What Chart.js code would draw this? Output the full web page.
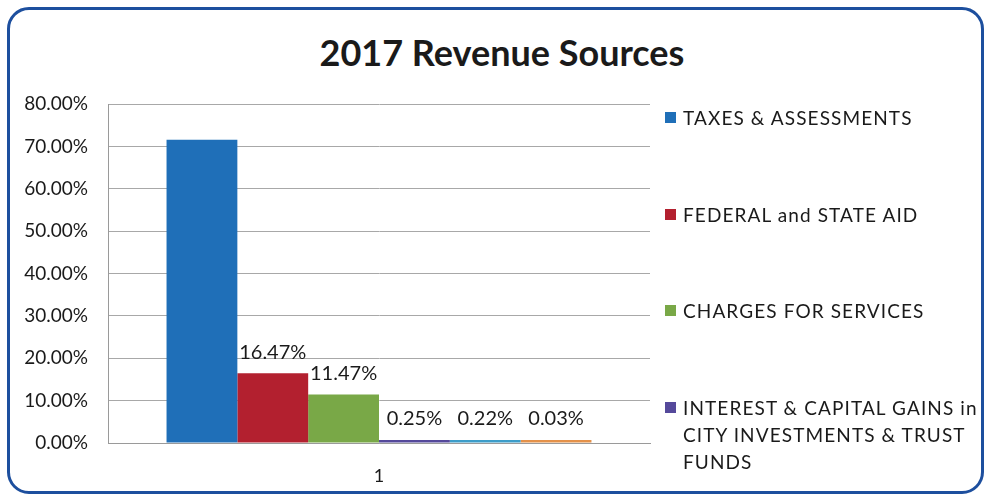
<!DOCTYPE html>
<html>
<head>
<meta charset="utf-8">
<script src="https://cdn.jsdelivr.net/npm/chart.js@4/dist/chart.umd.min.js"></script>
<style>
  html, body { margin: 0; padding: 0; background: #fff; }
  body { width: 985px; height: 497px; position: relative; overflow: hidden; font-family: Lato, "Open Sans", sans-serif; color: #1a1a1a; }
  #frame { position: absolute; left: 7px; top: 7px; width: 971px; height: 481px; border: 3px solid #1d4f9e; border-radius: 22px; }
  #titulo { position: absolute; left: 0; width: 1004px; top: 30px; text-align: center; font-weight: bold; font-size: 36px; line-height: 44px; }
  #grafico-box { position: absolute; left: 0; top: 0; width: 985px; height: 497px; }
  .leg { position: absolute; left: 665px; font-size: 19px; letter-spacing: 1.1px; line-height: 27px; white-space: nowrap; }
  .leg i { position: absolute; left: 0; top: 8px; width: 11px; height: 11px; }
  .leg span { position: absolute; left: 18px; top: 0; }
</style>
</head>
<body>
<div id="frame"></div>
<div id="titulo">2017 Revenue Sources</div>
<div id="grafico-box"><canvas id="grafico"></canvas></div>
<div id="legenda"></div>

<script>
// dados
const categorias = ["1"];
const fontes = [
    "TAXES & ASSESSMENTS",
    "FEDERAL and STATE AID",
    "CHARGES FOR SERVICES",
    "INTEREST & CAPITAL GAINS in CITY INVESTMENTS & TRUST FUNDS",
    "OTHER REVENUE",
    "MISCELLANEOUS"
];
const valores = [71.56, 16.47, 11.47, 0.25, 0.22, 0.03];
const cores = ['#1f6fb8', '#b3202f', '#79a847', '#55499b', '#3d9dc9', '#e4914a'];
const ticksY = [0, 10, 20, 30, 40, 50, 60, 70, 80];

// legenda (só as 4 primeiras aparecem no original)
const legendaTop = [104, 201, 297, 394];
const legendaTexto = [
    "TAXES & ASSESSMENTS",
    "FEDERAL and STATE AID",
    "CHARGES FOR SERVICES",
    "INTEREST & CAPITAL GAINS in<br>CITY INVESTMENTS & TRUST<br>FUNDS"
];
document.getElementById("legenda").innerHTML = legendaTexto.map((t, i) =>
    `<div class="leg" style="top:${legendaTop[i]}px"><i style="background:${cores[i]}"></i><span>${t}</span></div>`
).join("");

// rótulos em cima das barras (menos a primeira)
const rotulos = {
    id: 'rotulos',
    afterDatasetsDraw(chart) {
        const ctx = chart.ctx;
        ctx.save();
        ctx.font = '20px Lato';
        ctx.fillStyle = '#1a1a1a';
        ctx.textAlign = 'center';
        ctx.textBaseline = 'middle';
        chart.data.datasets.forEach((ds, i) => {
            if (i === 0) return;
            const bar = chart.getDatasetMeta(i).data[0];
            ctx.fillText(ds.data[0].toFixed(2) + '%', bar.x, bar.y - 21);
        });
        ctx.restore();
    }
};

new Chart(document.getElementById('grafico'), {
    type: 'bar',
    data: {
        labels: categorias,
        datasets: fontes.map((f, i) => ({
            label: f,
            data: [valores[i]],
            backgroundColor: cores[i],
            borderWidth: 0,
            minBarLength: 3
        }))
    },
    options: {
        responsive: true,
        maintainAspectRatio: false,
        animation: false,
        categoryPercentage: 0.784,
        barPercentage: 1,
        layout: { padding: { left: 8, right: 335, top: 104, bottom: 10 } },
        plugins: {
            legend: { display: false },
            tooltip: { enabled: false }
        },
        scales: {
            x: {
                grid: { display: false },
                border: { display: true, color: '#9a9a9a' },
                ticks: { color: '#1a1a1a', font: { family: 'Lato', size: 18 }, padding: 14 },
                afterFit(s) { s.height = 44; }
            },
            y: {
                min: 0,
                max: 80,
                afterBuildTicks(s) { s.ticks = ticksY.map(v => ({ value: v })); },
                grid: { color: '#a8a8a8', drawTicks: false },
                border: { display: true, color: '#9a9a9a' },
                ticks: {
                    color: '#1a1a1a',
                    font: { family: 'Lato', size: 19 },
                    padding: 20,
                    callback: v => v.toFixed(2) + '%'
                },
                afterFit(s) { s.width = 100; }
            }
        }
    },
    plugins: [rotulos]
});
</script>
</body>
</html>
